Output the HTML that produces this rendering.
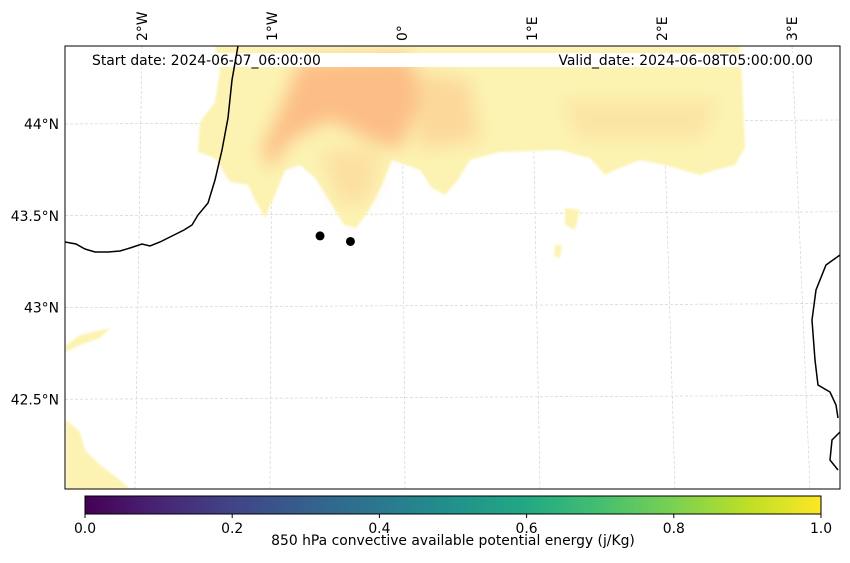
<!DOCTYPE html>
<html><head><meta charset="utf-8"><style>
body{margin:0;background:#fff;width:850px;height:558px;overflow:hidden;font-family:"Liberation Sans","DejaVu Sans",sans-serif}
svg text{font-family:"DejaVu Sans","Liberation Sans",sans-serif;font-size:13.9px;fill:#000}
</style></head><body>
<svg width="850" height="558" xmlns="http://www.w3.org/2000/svg">
<defs>
<linearGradient id="viridis" x1="0" x2="1" y1="0" y2="0">
<stop offset="0" stop-color="#440154"/><stop offset="0.1" stop-color="#482475"/><stop offset="0.2" stop-color="#414487"/><stop offset="0.3" stop-color="#355f8d"/><stop offset="0.4" stop-color="#2a788e"/><stop offset="0.5" stop-color="#21918c"/><stop offset="0.6" stop-color="#22a884"/><stop offset="0.7" stop-color="#44bf70"/><stop offset="0.8" stop-color="#7ad151"/><stop offset="0.9" stop-color="#bddf26"/><stop offset="1" stop-color="#fde725"/>
</linearGradient>
<filter id="blur" x="-20%" y="-20%" width="140%" height="140%"><feGaussianBlur stdDeviation="9"/></filter>
<filter id="blur2"><feGaussianBlur stdDeviation="1"/></filter>
<clipPath id="mapclip"><rect x="65" y="46" width="775" height="443"/></clipPath>
</defs>
<g clip-path="url(#mapclip)">
<g id="grid"></g>
<g filter="url(#blur2)">
<polygon fill="#fcf3b2" points="215,46 740,46 742,80 745,148 735,165 715,170 700,175 665,165 640,160 615,170 605,175 590,158 560,150 500,152 470,160 458,180 445,195 432,188 420,170 392,160 382,185 368,212 356,228 344,225 332,205 315,178 300,165 285,170 275,195 265,218 255,200 248,185 230,182 215,158 198,152 200,122 215,102 220,70"/>
<polygon fill="#fcf3b2" points="66,345 80,335 110,328 100,338 80,345 66,352"/>
<polygon fill="#fcf3b2" points="66,420 80,432 85,450 100,465 120,480 130,489 66,489"/>
<polygon fill="#fcf3b2" points="565,208 580,210 575,230 565,225"/>
<polygon fill="#fcf3b2" points="555,245 562,245 560,258 554,256"/>
</g>
<g filter="url(#blur)">
<polygon fill="#fcb07a" opacity="0.8" points="300,60 410,55 420,100 400,150 370,140 330,120 290,140 270,170 262,150 280,110"/>
<polygon fill="#fcc88c" opacity="0.6" points="410,70 470,80 480,140 420,150"/>
<polygon fill="#fbd896" opacity="0.5" points="560,100 720,100 700,140 580,140"/>
<polygon fill="#fcc88c" opacity="0.45" points="320,150 380,150 370,200 340,205"/>
</g>
<rect x="80" y="53" width="750" height="14" fill="#fff"/>
<path fill="none" stroke="#000" stroke-width="1.5" d="M238,46 L232,80 L228,118 L222,150 L215,180 L208,203 L198,215 L192,225 L184,230 L172,236 L160,242 L150,246 L142,244 L130,248 L120,251 L108,252 L95,252 L85,249 L76,244 L65,242"/>
<path fill="none" stroke="#000" stroke-width="1.5" d="M840,255 L826,265 L816,290 L812,320 L815,360 L818,385 L830,392 L836,405 L838,418 M840,432 L832,440 L830,460 L838,470"/>
<g id="points"></g>
</g>
<rect x="65" y="46" width="775" height="443" fill="none" stroke="#000" stroke-width="1"/>
<text x="92" y="65">Start date: 2024-06-07_06:00:00</text>
<text x="813" y="65" text-anchor="end">Valid_date: 2024-06-08T05:00:00.00</text>
<g id="ticks"></g>
<rect x="85" y="496" width="736" height="18" fill="url(#viridis)" stroke="#000" stroke-width="1"/>
<g id="cbticks"></g>
<text x="453" y="545" text-anchor="middle">850 hPa convective available potential energy (j/Kg)</text>
</svg>
<script>
const lonTicks=[-2,-1,0,1,2,3];
const lonLabels=["2°W","1°W","0°","1°E","2°E","3°E"];
const latTicks=[44,43.5,43,42.5];
const latLabels=["44°N","43.5°N","43°N","42.5°N"];
const cbTicks=[0,0.2,0.4,0.6,0.8,1.0];
const stationLon=[-0.63,-0.4];
const stationLat=[43.39,43.36];
const NS="http://www.w3.org/2000/svg";
function xTop(lon){return 402+lon*130;}
function xBot(lon){return 405+lon*135;}
function yLat(lat){return 124+(44-lat)*183.5;}
function lonAt(lon,y){const t=(y-46)/443;return xTop(lon)+(xBot(lon)-xTop(lon))*t;}
function xy(lon,lat){const y=yLat(lat);return [lonAt(lon,y),y];}
function mk(tag,attrs,parent){const e=document.createElementNS(NS,tag);for(const k in attrs)e.setAttribute(k,attrs[k]);parent.appendChild(e);return e;}
const grid=document.getElementById('grid'),ticks=document.getElementById('ticks');
lonTicks.forEach((lon,i)=>{
 const l=mk('line',{x1:xTop(lon),y1:46,x2:xBot(lon),y2:489,stroke:'#ccc','stroke-width':0.6,'stroke-dasharray':'3,2'},grid);
 
 
 const t=mk('text',{x:0,y:0,'text-anchor':'start',transform:`translate(${xTop(lon)+5},41) rotate(-90)`},ticks);
 t.textContent=lonLabels[i];
 
 
});
latTicks.forEach((lat,i)=>{
 const y=yLat(lat);
 const l=mk('line',{x1:65,y1:y,x2:840,y2:y-4,stroke:'#ccc','stroke-width':0.6,'stroke-dasharray':'3,2'},grid);
 
 
 const t=mk('text',{x:59,y:y+5,'text-anchor':'end'},ticks);
 t.textContent=latLabels[i];
 
 
});
const pts=document.getElementById('points');
stationLon.forEach((lon,i)=>{
 const p=xy(lon,stationLat[i]);
 const c=mk('circle',{cx:p[0],cy:p[1],r:4.5,fill:'#000'},pts);
 
 
});
const cb=document.getElementById('cbticks');
cbTicks.forEach(v=>{
 const x=85+v*736;
 const l=mk('line',{x1:x,y1:514,x2:x,y2:518,stroke:'#000'},cb);
 
 
 const t=mk('text',{x:x,y:533,'text-anchor':'middle'},cb);
 t.textContent=v.toFixed(1);
 
 
});
</script>
</body></html>
